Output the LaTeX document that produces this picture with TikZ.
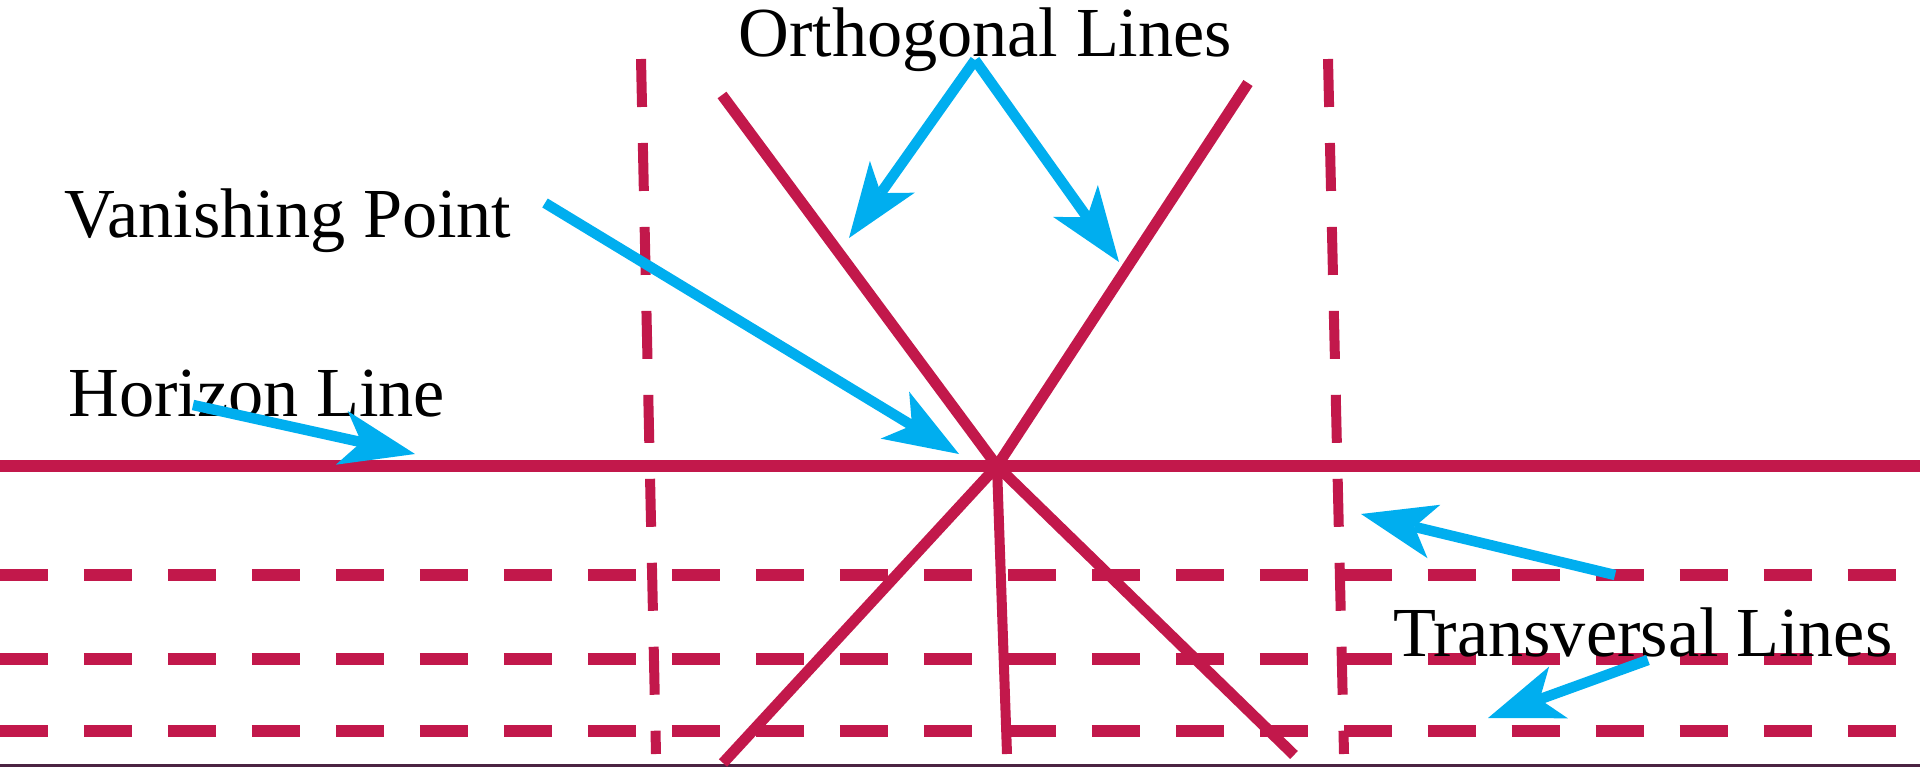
\documentclass[tikz,border=0pt]{standalone}
\usepackage{fontspec}
\setmainfont{Liberation Serif}
\usepackage{tikz}
\usetikzlibrary{arrows.meta}
\definecolor{guidered}{RGB}{194,24,75}
\definecolor{pointblue}{RGB}{0,174,239}
\definecolor{floorpurple}{RGB}{75,35,66}

\begin{document}
\begin{tikzpicture}[x=0.02cm,y=-0.02cm,
  >={Stealth[length=1.5cm,width=1.1cm,inset=0.4cm,line width=0pt]},
  guide/.style={guidered,line width=0.22cm},
  guidedash/.style={guide,dash pattern=on 0.96cm off 0.72cm},
  pointer/.style={pointblue,line width=0.21cm,->},
  lbl/.style={font=\fontsize{40}{48}\selectfont,inner sep=0pt,anchor=base west}]
\useasboundingbox (0,0) rectangle (1920,767);
% ground edge
\draw[floorpurple,line width=0.07cm] (0,765.5) -- (1920,765.5);
% horizon and transversal lines
\draw[guide,line width=0.24cm] (0,466) -- (1920,466);
\foreach \y in {575,659,731}
  \draw[guidedash,line width=0.24cm] (0,\y) -- (1896,\y);
% vertical guides
\draw[guidedash,line width=0.2cm] (641,59) -- (656,754);
\draw[guidedash,line width=0.2cm] (1328,59) -- (1344,754);
% orthogonal lines meeting at the vanishing point
\coordinate (vp) at (997,466);
\draw[guide] (722,95) -- (vp);
\draw[guide] (1248,83) -- (vp);
\draw[guide] (vp) -- (723,763);
\draw[guide] (vp) -- (1294,755);
\draw[guide,line width=0.2cm] (vp) -- (1007,754);
% labels
\node[lbl] (ortho) at (738,57) {Orthogonal Lines};
\node[lbl] (vanish) at (64,237) {Vanishing Point};
\node[lbl] (horizon) at (68,416) {Horizon Line};
\node[lbl] (transv) at (1393,656) {Transversal Lines};
% pointers
\coordinate (orthoapex) at (975,60);
\coordinate (orthoL) at (849,238);
\coordinate (orthoR) at (1119,262);
\draw[pointer] (orthoapex) -- (orthoL);
\draw[pointer] (orthoapex) -- (orthoR);
\coordinate (vanishA) at (545,203);
\coordinate (vanishB) at (959,454);
\draw[pointer] (vanishA) -- (vanishB);
\coordinate (horizonA) at (193,405);
\coordinate (horizonB) at (415,454);
\draw[pointer] (horizonA) -- (horizonB);
\coordinate (transvA) at (1615,575);
\coordinate (transvB) at (1361,514);
\draw[pointer] (transvA) -- (transvB);
\coordinate (transvC) at (1648,660);
\coordinate (transvD) at (1488,718);
\draw[pointer] (transvC) -- (transvD);
\end{tikzpicture}
\end{document}
